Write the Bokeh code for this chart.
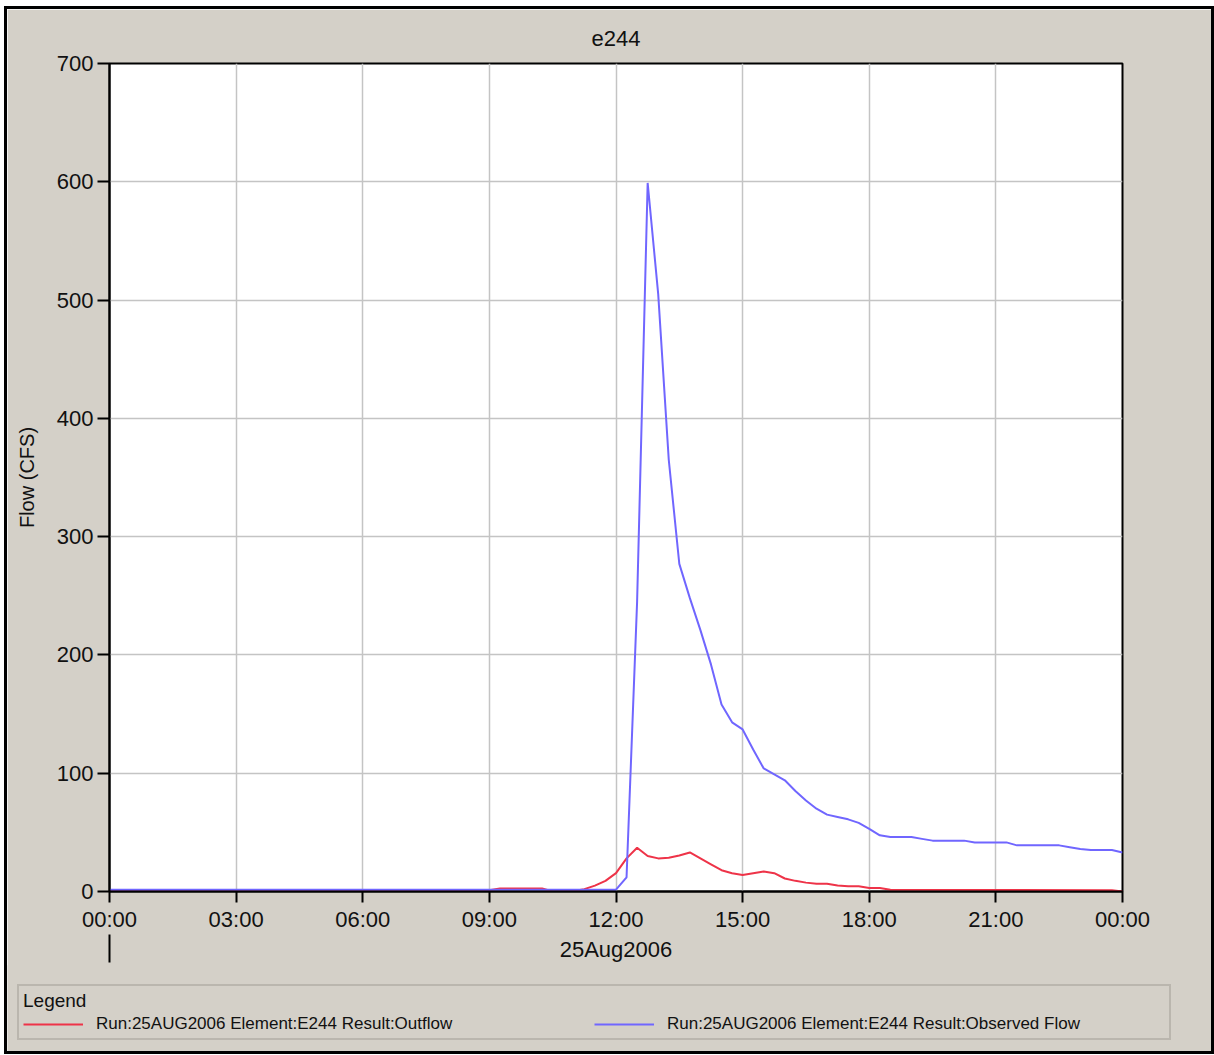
from bokeh.plotting import figure
from bokeh.models import Range1d, FixedTicker, LinearAxis, Legend, LegendItem
from bokeh.embed import file_html
from bokeh.resources import INLINE

# ---- data (hours since 25Aug2006 00:00, flow in CFS) ----
obs_t = [0, 12.0, 12.25, 12.5, 12.75, 13.0, 13.25, 13.5, 13.75, 14.0, 14.25, 14.5,
         14.75, 15.0, 15.25, 15.5, 15.75, 16.0, 16.25, 16.5, 16.75, 17.0, 17.25, 17.5,
         17.75, 18.0, 18.25, 18.5, 18.75, 19.0, 19.25, 19.5, 19.75, 20.0, 20.25, 20.5,
         20.75, 21.0, 21.25, 21.5, 21.75, 22.0, 22.25, 22.5, 22.75, 23.0, 23.25, 23.5,
         23.75, 24.0]
obs_v = [1.5, 1.5, 12, 245, 599, 505, 365, 277, 248, 221, 192, 158,
         143, 137, 120, 104, 99, 94, 85, 77, 70, 65, 63, 61,
         58, 53, 47.5, 46, 46, 46, 44.5, 43, 43, 43, 43, 41.5,
         41.5, 41.5, 41.5, 39, 39, 39, 39, 39, 37.5, 36, 35, 35,
         35, 33]

out_t = [0, 9.0, 9.25, 10.25, 10.5, 11.0, 11.25, 11.5, 11.75, 12.0, 12.25, 12.5,
         12.75, 13.0, 13.25, 13.5, 13.75, 14.0, 14.25, 14.5, 14.75, 15.0, 15.25, 15.5,
         15.75, 16.0, 16.25, 16.5, 16.75, 17.0, 17.25, 17.5, 17.75, 18.0, 18.25, 18.5,
         23.75, 24.0]
out_v = [1, 1, 2.5, 2.5, 0, 0.5, 2, 5, 9, 15.5, 28, 37,
         30, 28, 28.5, 30.5, 33, 28, 23, 18, 15.5, 14, 15.5, 17,
         15.5, 11, 9, 7.5, 6.5, 6.5, 5, 4.5, 4.4, 3, 3, 1.5,
         1, 0]

x_ticks = [0, 3, 6, 9, 12, 15, 18, 21, 24]
x_labels = ["00:00", "03:00", "06:00", "09:00", "12:00", "15:00", "18:00", "21:00", "00:00"]
y_ticks = [0, 100, 200, 300, 400, 500, 600, 700]
date_label = "25Aug2006"
title_text = "e244"
y_title = "Flow (CFS)"
legend_title = "Legend"
label_out = "Run:25AUG2006 Element:E244 Result:Outflow"
label_obs = "Run:25AUG2006 Element:E244 Result:Observed Flow"

FONT = "Liberation Sans"
BG = "#D4D0C8"
RED = "#EE3348"
BLUE = "#7066FF"
TXT = "#111111"

p = figure(width=1204, height=957, output_backend="svg", toolbar_location=None,
           x_range=Range1d(0, 24), y_range=Range1d(0, 700),
           min_border_left=102, min_border_right=89, min_border_top=54,
           min_border_bottom=75,
           background_fill_color="white", border_fill_color=BG,
           outline_line_color="black", outline_line_width=2)
p.margin = (9, 0, 0, 7)
p.styles = {"box-shadow": "-3px -3px 0 0 black, 3px -3px 0 0 black, "
                          "-3px 0 0 0 black, 3px 0 0 0 black"}

# title
p.title.text = title_text
p.title.align = "center"
p.title.text_font = FONT
p.title.text_font_size = "22px"
p.title.text_font_style = "normal"
p.title.text_color = TXT
p.title.standoff = 35

# x axis
xa = p.xaxis[0]
xa.ticker = FixedTicker(ticks=x_ticks)
xa.major_label_overrides = {t: l for t, l in zip(x_ticks, x_labels)}
xa.major_label_text_font = FONT
xa.major_label_text_font_size = "22px"
xa.major_label_text_color = TXT
xa.major_tick_in = 0
xa.major_tick_out = 11
xa.major_tick_line_width = 2
xa.axis_line_width = 2
xa.major_label_standoff = 4

# y axis
ya = p.yaxis[0]
ya.ticker = FixedTicker(ticks=y_ticks)
ya.major_label_text_font = FONT
ya.major_label_text_font_size = "22px"
ya.major_label_text_color = TXT
ya.major_tick_in = 0
ya.major_tick_out = 12
ya.major_tick_line_width = 2
ya.axis_line_width = 2
ya.major_label_standoff = 4
ya.axis_label = y_title
ya.axis_label_text_font = FONT
ya.axis_label_text_font_size = "20px"
ya.axis_label_text_font_style = "normal"
ya.axis_label_text_color = TXT
ya.axis_label_standoff = 16

# date axis (day marker tick at 00:00, date label at midday)
ax2 = LinearAxis(ticker=FixedTicker(ticks=[12], minor_ticks=[0]),
                 major_label_overrides={12: date_label},
                 axis_line_color=None, major_tick_line_color=None,
                 major_tick_in=0, major_tick_out=0,
                 minor_tick_in=0, minor_tick_out=28,
                 minor_tick_line_color="black", minor_tick_line_width=2,
                 major_label_standoff=-26,
                 major_label_text_font=FONT, major_label_text_font_size="22px",
                 major_label_text_color=TXT)
p.add_layout(ax2, "below")

# grid
for g in (p.xgrid[0], p.ygrid[0]):
    g.grid_line_color = "#C4C4C4"
    g.grid_line_width = 1.5

p.line(out_t, out_v, color=RED, line_width=2)
p.line(obs_t, obs_v, color=BLUE, line_width=2)

# legend strip: a second root below the chart; its series sit outside its view,
# only the legend is shown
pl = figure(width=1204, height=86, output_backend="svg", toolbar_location=None,
            x_range=Range1d(0, 24), y_range=Range1d(-1000, -900),
            min_border=0, background_fill_color=BG, border_fill_color=BG,
            outline_line_color=None)
pl.margin = (-1, 0, 0, 7)
pl.styles = {"box-shadow": "-3px 3px 0 0 black, 3px 3px 0 0 black, "
                           "-3px 0 0 0 black, 3px 0 0 0 black"}
pl.axis.visible = False
pl.grid.visible = False
l_out = pl.line(out_t, out_v, color=RED, line_width=2)
l_obs = pl.line(obs_t, obs_v, color=BLUE, line_width=2)

legend = Legend(items=[LegendItem(label=label_out, renderers=[l_out]),
                       LegendItem(label=label_obs, renderers=[l_obs])],
                orientation="horizontal", location=(10, 11),
                title=legend_title, title_text_font=FONT, title_text_font_size="19px",
                title_text_font_style="normal", title_text_color=TXT, title_standoff=2,
                label_text_font=FONT, label_text_font_size="17px", label_text_color=TXT,
                glyph_width=60, glyph_height=18, label_standoff=13, label_width=498,
                spacing=0, padding=4, margin=0,
                background_fill_color=BG, background_fill_alpha=1.0,
                border_line_color="#A09C94", border_line_width=2)
pl.add_layout(legend, "center")

open("out.html", "w").write(file_html([p, pl], INLINE))
